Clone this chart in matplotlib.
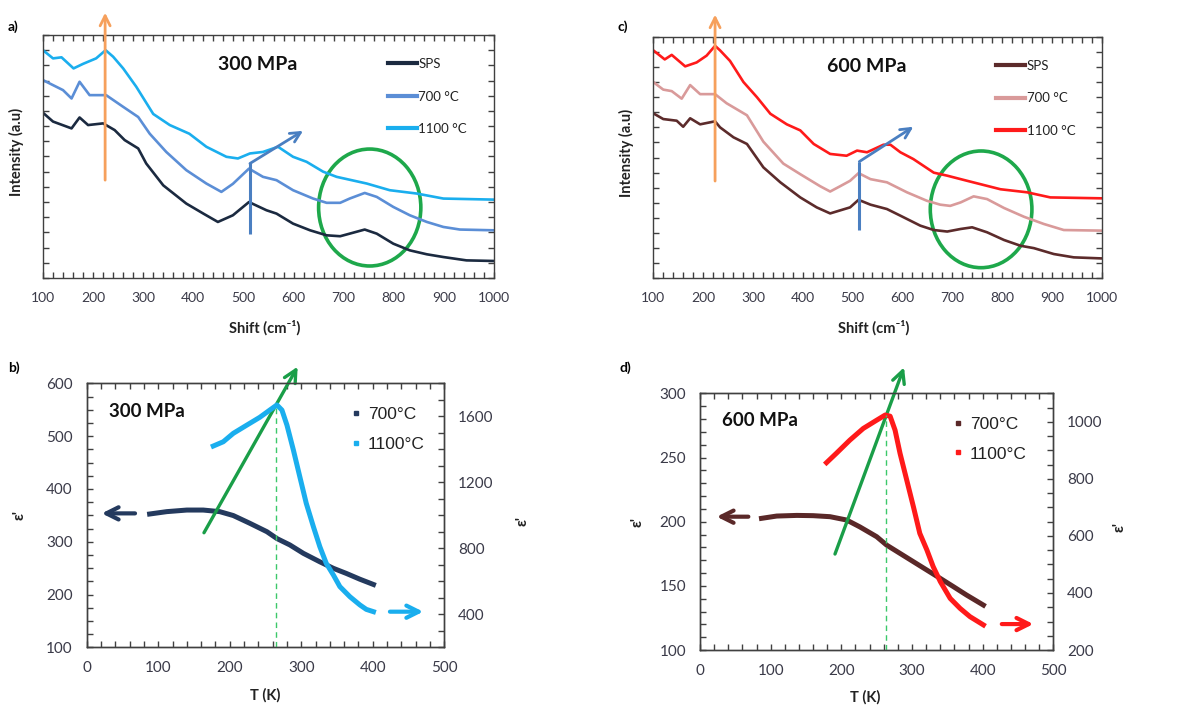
# Raman spectra (a, c) and permittivity vs temperature (b, d)
import matplotlib
matplotlib.use("Agg")
import matplotlib.pyplot as plt
from matplotlib.patches import Ellipse
from matplotlib.lines import Line2D
from matplotlib.ticker import MultipleLocator, NullFormatter

plt.rcParams['font.family'] = ['Lato', 'DejaVu Sans']

# ---------------- data: panel a (300 MPa, Raman) ----------------
a_sps_x = [100, 120, 157, 173, 190, 220, 243, 263, 290, 306, 340, 386, 420, 449, 479,
           511, 546, 566, 599, 633, 666, 693, 712, 742, 766, 799, 832, 866, 899, 945, 1000]
a_sps_y = [10.88, 10.3, 9.85, 10.57, 10.07, 10.18, 9.74, 9.08, 8.53, 7.54, 6.1, 4.9, 4.24, 3.69, 4.13,
           5.0, 4.46, 4.24, 3.58, 3.14, 2.81, 2.75, 2.92, 3.19, 2.92, 2.26, 1.82, 1.56, 1.38, 1.16, 1.12]
a_700_x = [100, 140, 157, 173, 193, 226, 260, 290, 313, 346, 386, 426, 456, 479, 511,
           539, 566, 599, 639, 666, 693, 712, 742, 766, 799, 832, 866, 899, 932, 1000]
a_700_y = [13.03, 12.37, 11.82, 12.92, 12.04, 12.04, 11.27, 10.6, 9.5, 8.3, 7.1, 6.22, 5.67, 6.2, 7.2,
           6.66, 6.44, 5.78, 5.23, 4.95, 4.95, 5.23, 5.6, 5.34, 4.68, 4.13, 3.69, 3.36, 3.19, 3.14]
a_1100_x = [100, 120, 137, 161, 180, 206, 225, 240, 260, 286, 320, 353, 392, 426, 466, 489,
            513, 539, 569, 599, 626, 659, 686, 746, 792, 846, 899, 1000]
a_1100_y = [15.0, 14.46, 14.53, 13.8, 14.1, 14.46, 15.0, 14.57, 13.8, 12.6, 10.8, 10.07, 9.5, 8.64, 7.98, 7.87,
            8.2, 8.3, 8.64, 7.98, 7.65, 7.0, 6.66, 6.22, 5.78, 5.56, 5.23, 5.16]

# ---------------- data: panel c (600 MPa, Raman) ----------------
c_sps_x = [100, 120, 147, 160, 174, 194, 224, 234, 261, 288, 321, 355, 395, 428, 455, 475, 495,
           512, 536, 569, 596, 636, 663, 690, 717, 740, 770, 804, 837, 864, 904, 944, 1000]
c_sps_y = [10.93, 10.55, 10.44, 10.04, 10.6, 10.2, 10.4, 10.0, 9.34, 8.9, 7.35, 6.36, 5.36, 4.7, 4.3, 4.5, 4.7,
           5.2, 4.88, 4.59, 4.15, 3.49, 3.2, 3.1, 3.27, 3.38, 3.05, 2.54, 2.16, 2.0, 1.61, 1.39, 1.32]
c_700_x = [100, 120, 137, 157, 174, 194, 224, 247, 288, 321, 361, 395, 435, 455, 475, 495,
           512, 536, 569, 609, 649, 676, 696, 717, 743, 770, 804, 844, 884, 924, 1000]
c_700_y = [13.0, 12.5, 12.4, 11.9, 12.8, 12.2, 12.2, 11.6, 10.8, 9.05, 7.6, 6.9, 6.1, 5.75, 6.1, 6.46,
           6.97, 6.57, 6.36, 5.7, 5.14, 4.88, 4.8, 5.03, 5.43, 5.25, 4.66, 4.08, 3.6, 3.2, 3.16]
c_1100_x = [100, 123, 137, 164, 187, 207, 224, 234, 254, 281, 308, 335, 368, 395, 422, 455, 488,
            509, 529, 562, 576, 596, 622, 663, 690, 730, 797, 850, 897, 1000]
c_1100_y = [15.1, 14.5, 14.8, 14.04, 14.3, 14.75, 15.4, 15.1, 14.4, 13.0, 12.0, 10.9, 10.2, 9.8, 8.9, 8.24, 8.12,
            8.46, 8.35, 8.85, 8.85, 8.35, 7.9, 7.0, 6.8, 6.46, 5.9, 5.7, 5.36, 5.3]

# ---------------- data: panel b (300 MPa, permittivity) ----------------
b_700_T = [88, 112, 140, 163, 186, 205, 228, 252, 266, 284, 303, 326, 345, 363, 382, 401]
b_700_e = [352.5, 357, 360, 360, 357, 349.6, 335, 319, 306, 294, 278, 262, 249.6, 240, 229, 219]
b_1100_T = [177, 191, 205, 224, 242, 256, 266, 273, 280, 289, 298, 307, 317, 326, 335, 345,
            354, 368, 382, 391, 401]
b_1100_e = [1420, 1446, 1497, 1547, 1594, 1638, 1669, 1638, 1547, 1396, 1234, 1073, 931, 810, 709, 638,
            568, 507, 457, 430, 416]

# ---------------- data: panel d (600 MPa, permittivity) ----------------
d_700_T = [87, 108.5, 137, 160, 184, 207.5, 226, 250, 264, 283, 302, 321, 340, 358.5, 377, 401]
d_700_e = [202.6, 204.4, 204.9, 204.7, 203.9, 201.3, 196, 188.3, 181.8, 175.3, 168.8, 162.3, 155.8, 149.4,
           142.9, 135]
d_1100_T = [179, 193, 212, 231, 250, 262, 269, 276, 283, 292.5, 302, 311, 321, 330, 340, 354,
            368, 382, 401]
d_1100_e = [857, 890, 936, 977, 1006, 1024, 1020, 971, 890, 796, 702, 609, 551, 492, 440, 381,
            346, 317, 288]

raman_labels = ["SPS", "700 °C", "1100 °C"]
diel_labels = ["700°C", "1100°C"]

# colours
A_COLS = ["#1b2a40", "#5b8ed6", "#1aaeee"]
C_COLS = ["#5c2b2b", "#d99a9a", "#ff1a1a"]
B_COLS = ["#243a5e", "#1aaeee"]
D_COLS = ["#5a2828", "#ff1a1a"]
ORANGE = "#f6a05c"
BLUE_ARROW = "#4a7fc1"
GREEN = "#1ea84b"
GREEN_DASH = "#3cc86a"
TICK_COL = "#3a3a48"
SPINE_COL = "#404040"

fig = plt.figure(figsize=(12.04, 7.07), dpi=100)


def style_axis(ax, right=True, top=True):
    for s in ax.spines.values():
        s.set_color(SPINE_COL)
        s.set_linewidth(1.0)
    ax.tick_params(which="both", direction="in", length=4, width=1.0, color=SPINE_COL,
                   labelcolor=TICK_COL, labelsize=10, top=top, right=right)


def panel_letter(x_px, y_px, letter):
    fig.text(x_px / 1204, 1 - y_px / 707, letter, fontsize=10, fontweight="bold",
             va="center", ha="left")


def raman_panel(rect, curves, cols, title, letter, orange_x, blue, ellipse):
    ax = fig.add_axes(rect)
    lines = []
    for (x, y), col, lab in zip(curves, cols, raman_labels):
        ln, = ax.plot(x, y, color=col, lw=1.9, label=lab, solid_joinstyle="round")
        lines.append(ln)
    ax.set_xlim(100, 1000)
    ax.set_ylim(0, 16)
    ax.xaxis.set_major_locator(MultipleLocator(100))
    ax.xaxis.set_minor_locator(MultipleLocator(20))
    ax.yaxis.set_major_locator(MultipleLocator(1))
    ax.yaxis.set_major_formatter(NullFormatter())
    style_axis(ax)
    ax.tick_params(axis="x", which="both", pad=10)
    ax.set_xlabel("Shift (cm⁻¹)", fontsize=10.5, fontweight="bold", color="#222222")
    ax.xaxis.set_label_coords(0.492, -0.172)
    ax.set_ylabel("Intensity (a.u)", fontsize=10.5, fontweight="bold", color="#222222")
    ax.yaxis.set_label_coords(-0.042, 0.52)

    # orange arrow crossing the top spine
    ax.annotate("", xy=(orange_x, 17.65), xytext=(orange_x, 6.26),
                arrowprops=dict(arrowstyle="->", color=ORANGE, lw=2.0, mutation_scale=18),
                annotation_clip=False)
    # bent blue arrow
    bx, by0, by1, tx, ty = blue
    ax.plot([bx, bx], [by0, by1], color=BLUE_ARROW, lw=2.2, solid_capstyle="butt")
    ax.annotate("", xy=(tx, ty), xytext=(bx, by1),
                arrowprops=dict(arrowstyle="->", color=BLUE_ARROW, lw=2.0, mutation_scale=18,
                                shrinkA=0, shrinkB=0))
    ex, ey, ew, eh = ellipse
    ax.add_patch(Ellipse((ex, ey), ew, eh, fill=False, edgecolor=GREEN, lw=2.6))

    ax.text(0.388, 0.877, title, transform=ax.transAxes, fontsize=14, fontweight="bold",
            va="center", ha="left", color="#111111")
    ax.legend(handles=lines, loc="upper left", bbox_to_anchor=(0.765, 0.905), frameon=False,
              fontsize=9.5, handlelength=2.2, handletextpad=0.1, labelspacing=1.55,
              borderpad=0, borderaxespad=0, labelcolor="#222222")
    for h in ax.get_legend().legend_handles:
        h.set_linewidth(3)
    return ax


raman_panel([0.0357, 0.6068, 0.3746, 0.3437],
            [(a_sps_x, a_sps_y), (a_700_x, a_700_y), (a_1100_x, a_1100_y)], A_COLS,
            "300 MPa", "a)", 224, (513, 2.92, 7.54, 619, 9.69), (752, 4.64, 204, 7.7))
raman_panel([0.5426, 0.6063, 0.3724, 0.3417],
            [(c_sps_x, c_sps_y), (c_700_x, c_700_y), (c_1100_x, c_1100_y)], C_COLS,
            "600 MPa", "c)", 224, (513.5, 3.2, 7.73, 622, 10.04), (758, 4.57, 204, 7.73))


def diel_panel(rect, left, right, cols, lims, title, arrows, label_x):
    (T1, e1), (T2, e2) = left, right
    (ly0, ly1, lmaj, lmin), (ry0, ry1, rmaj, rmin) = lims
    ax = fig.add_axes(rect)
    ax2 = ax.twinx()
    ax.plot(T1, e1, color=cols[0], lw=3.6, solid_joinstyle="round")
    ax2.plot(T2, e2, color=cols[1], lw=3.6, solid_joinstyle="round")
    ax.set_xlim(0, 500)
    ax.set_ylim(ly0, ly1)
    ax2.set_ylim(ry0, ry1)
    ax.xaxis.set_major_locator(MultipleLocator(100))
    ax.xaxis.set_minor_locator(MultipleLocator(20))
    ax.yaxis.set_major_locator(MultipleLocator(lmaj))
    ax.yaxis.set_minor_locator(MultipleLocator(lmin))
    ax2.yaxis.set_major_locator(MultipleLocator(rmaj))
    ax2.yaxis.set_minor_locator(MultipleLocator(rmin))
    style_axis(ax, right=False, top=True)
    style_axis(ax2, right=True, top=False)
    ax.tick_params(labelsize=11)
    ax2.tick_params(labelsize=11)
    ax.tick_params(axis="x", which="both", pad=10)
    ax.tick_params(axis="y", which="both", pad=10)
    ax2.tick_params(axis="y", which="both", pad=10)

    ax.set_xlabel("T (K)", fontsize=10.5, fontweight="bold", color="#222222")
    ax.xaxis.set_label_coords(label_x[0], -0.155)
    ax.set_ylabel("ε'", fontsize=11, fontweight="bold", color="#222222")
    ax.yaxis.set_label_coords(label_x[1], 0.5)
    ax2.set_ylabel("ε'", fontsize=11, fontweight="bold", color="#222222")
    ax2.yaxis.set_label_coords(label_x[2], 0.48)

    la, ra, ga, vx, vtop = arrows
    ax.annotate("", xy=(la[1], la[2]), xytext=(la[0], la[2]),
                arrowprops=dict(arrowstyle="->", color=cols[0], lw=3, mutation_scale=22,
                                shrinkA=0, shrinkB=0), annotation_clip=False)
    ax2.annotate("", xy=(ra[1], ra[2]), xytext=(ra[0], ra[2]),
                 arrowprops=dict(arrowstyle="->", color=cols[1], lw=3, mutation_scale=22,
                                 shrinkA=0, shrinkB=0), annotation_clip=False)
    ax2.plot([vx, vx], [ry0, vtop], color=GREEN_DASH, lw=1.0, ls=(0, (4, 3)))
    ax.annotate("", xy=(ga[2], ga[3]), xytext=(ga[0], ga[1]),
                arrowprops=dict(arrowstyle="->", color="#1a9e48", lw=2.4, mutation_scale=22,
                                shrinkA=0, shrinkB=0), annotation_clip=False)

    ax.text(0.063, 0.895, title, transform=ax.transAxes, fontsize=13.5, fontweight="bold",
            va="center", ha="left", color="#111111")
    handles = [Line2D([], [], ls="none", marker="s", ms=3, color=c) for c in cols]
    ax2.legend(handles, diel_labels, loc="upper left", bbox_to_anchor=(label_x[3], 0.91),
               frameon=False, prop={"family": "Liberation Sans", "size": 12.5},
               handlelength=0.5, handletextpad=0.45, labelspacing=0.85,
               borderpad=0, borderaxespad=0, labelcolor="#222222")
    return ax


diel_panel([0.072, 0.0844, 0.297, 0.3734], (b_700_T, b_700_e), (b_1100_T, b_1100_e), B_COLS,
           ((100, 600, 100, 25), (200, 1800, 400, 100)), "300 MPa",
           ((67.6, 21, 353.7), (424, 470.6, 416), (164, 317, 295, 631.6), 264.7, 1669),
           (0.499, -0.168, 1.198, 0.74))
diel_panel([0.5814, 0.0806, 0.2935, 0.363], (d_700_T, d_700_e), (d_1100_T, d_1100_e), D_COLS,
           ((100, 300, 50, 10), (200, 1100, 200, 50)), "600 MPa",
           ((68.4, 23.6, 203.9), (427, 471.7, 291), (191, 174.8, 288.7, 320.3), 263, 1024),
           (0.467, -0.156, 1.166, 0.717))

panel_letter(8, 27, "a)")
panel_letter(618, 27, "c)")
panel_letter(8, 368, "b)")
panel_letter(620, 368, "d)")

fig.savefig("out.png", dpi=100)
